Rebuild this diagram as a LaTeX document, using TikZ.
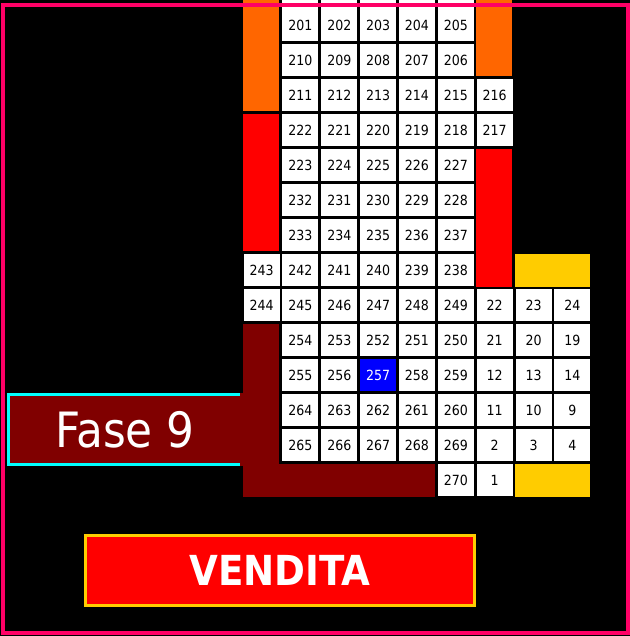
\documentclass[tikz,border=0pt]{standalone}
\usepackage{fontspec}
\setmainfont{DejaVu Sans Condensed}
\definecolor{pinkb}{HTML}{FF0066}
\definecolor{orangeb}{HTML}{FF6600}
\definecolor{redb}{HTML}{FF0000}
\definecolor{yellowb}{HTML}{FFCC00}
\definecolor{maroonb}{HTML}{800000}
\definecolor{cyanb}{HTML}{00FFFF}
\definecolor{blueb}{HTML}{0000FF}
\tikzset{
  cell/.style={fill=white, draw=none, inner sep=0pt, anchor=north west,
    minimum width=27pt, minimum height=24pt, font=\fontsize{10.5pt}{12pt}\selectfont, text=black},
  bluecell/.style={cell, fill=blueb, text=white},
  fasebox/.style={fill=maroonb, draw=cyanb, line width=2.25pt, inner sep=0pt,
    minimum width=174.75pt, minimum height=52.5pt, text=white,
    font=\fontsize{36.5pt}{42pt}\selectfont},
  venditabox/.style={fill=redb, draw=yellowb, line width=2.5pt, inner sep=0pt,
    minimum width=291.5pt, minimum height=52.2pt, text=white,
    font=\fontsize{31pt}{36pt}\selectfont\bfseries},
  frame/.style={draw=pinkb, line width=3pt}
}
\newcommand{\cx}[1]{243.3+38.85*#1}
\newcommand{\ry}[1]{9+35*#1}
\begin{document}
\begin{tikzpicture}[x=0.75pt,y=-0.75pt]
\useasboundingbox (0,0) rectangle (630,636);
\fill[black] (0,0) rectangle (630,636);
% coloured bars
\fill[orangeb] (243.3,0) rectangle (279.3,111);
\fill[orangeb] ({\cx{6}},0) rectangle ({\cx{6}+36},76);
\fill[redb] (243.3,114) rectangle (279.3,251);
\fill[redb] ({\cx{6}},149) rectangle ({\cx{6}+36},286.5);
\fill[yellowb] ({\cx{7}},254) rectangle ({\cx{8}+36},286.5);
\fill[yellowb] ({\cx{7}},464) rectangle ({\cx{8}+36},496.5);
% Fase 9 box
\node[fasebox] (fase) at (125,429.5) {Fase 9};
\fill[maroonb] (240,393) rectangle (243.3,466);
% maroon L
\fill[maroonb] (243.3,324) rectangle (279.3,496.5);
\fill[maroonb] (243.3,464) rectangle ({\cx{4}+36},496.5);
% top extension of first row
\foreach \c in {1,...,5} \fill[white] ({\cx{\c}},0) rectangle ({\cx{\c}+36},10);
% cells
\foreach \c/\t in {1/201,2/202,3/203,4/204,5/205} \node[cell] (n\t) at ({\cx{\c}},{\ry{0}}) {\t};
\foreach \c/\t in {1/210,2/209,3/208,4/207,5/206} \node[cell] (n\t) at ({\cx{\c}},{\ry{1}}) {\t};
\foreach \c/\t in {1/211,2/212,3/213,4/214,5/215,6/216} \node[cell] (n\t) at ({\cx{\c}},{\ry{2}}) {\t};
\foreach \c/\t in {1/222,2/221,3/220,4/219,5/218,6/217} \node[cell] (n\t) at ({\cx{\c}},{\ry{3}}) {\t};
\foreach \c/\t in {1/223,2/224,3/225,4/226,5/227} \node[cell] (n\t) at ({\cx{\c}},{\ry{4}}) {\t};
\foreach \c/\t in {1/232,2/231,3/230,4/229,5/228} \node[cell] (n\t) at ({\cx{\c}},{\ry{5}}) {\t};
\foreach \c/\t in {1/233,2/234,3/235,4/236,5/237} \node[cell] (n\t) at ({\cx{\c}},{\ry{6}}) {\t};
\foreach \c/\t in {0/243,1/242,2/241,3/240,4/239,5/238} \node[cell] (n\t) at ({\cx{\c}},{\ry{7}}) {\t};
\foreach \c/\t in {0/244,1/245,2/246,3/247,4/248,5/249,6/22,7/23,8/24} \node[cell] (n\t) at ({\cx{\c}},{\ry{8}}) {\t};
\foreach \c/\t in {1/254,2/253,3/252,4/251,5/250,6/21,7/20,8/19} \node[cell] (n\t) at ({\cx{\c}},{\ry{9}}) {\t};
\foreach \c/\t in {1/255,2/256,4/258,5/259,6/12,7/13,8/14} \node[cell] (n\t) at ({\cx{\c}},{\ry{10}}) {\t};
\node[bluecell] (n257) at ({\cx{3}},{\ry{10}}) {257};
\foreach \c/\t in {1/264,2/263,3/262,4/261,5/260,6/11,7/10,8/9} \node[cell] (n\t) at ({\cx{\c}},{\ry{11}}) {\t};
\foreach \c/\t in {1/265,2/266,3/267,4/268,5/269,6/2,7/3,8/4} \node[cell] (n\t) at ({\cx{\c}},{\ry{12}}) {\t};
\foreach \c/\t in {5/270,6/1} \node[cell] (n\t) at ({\cx{\c}},{\ry{13}}) {\t};
% VENDITA
\node[venditabox] (vendita) at (280,570.5) {VENDITA};
% frame
\draw[frame] (2.7,5.3) rectangle (628,632.5);
\end{tikzpicture}
\end{document}
